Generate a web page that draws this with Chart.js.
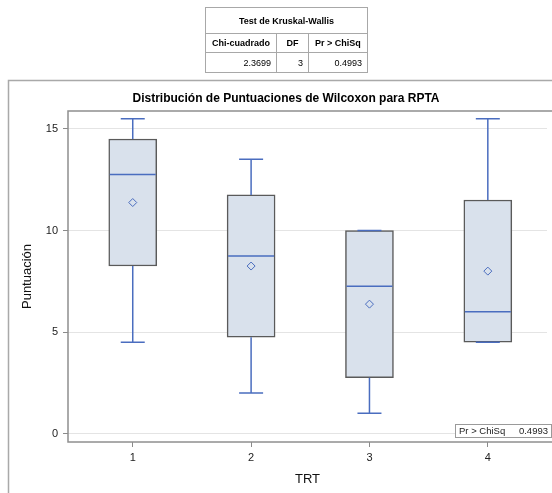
<!DOCTYPE html>
<html><head><meta charset="utf-8">
<script src="https://cdn.jsdelivr.net/npm/chart.js@4"></script>
<style>
html,body{margin:0;padding:0;background:#fff;}
#wrap{position:relative;width:552px;height:493px;overflow:hidden;background:#fff;}
canvas{position:absolute;left:0;top:0;}
#kw{position:absolute;left:205px;top:7px;border-collapse:collapse;font-family:"Liberation Sans",Arial,sans-serif;font-size:9px;color:#000;table-layout:fixed;}
#kw td{border:1px solid #a8a8a8;padding:0 5px;box-sizing:border-box;}
#kw .t{text-align:center;font-weight:bold;height:26px;}
#kw .h td{font-weight:bold;height:19px;text-align:center;}
#kw .v td{height:20px;text-align:right;}
</style></head>
<body><div id="wrap"><canvas id="c" width="552" height="493"></canvas>
<table id="kw"></table>
</div>
<script>
// ---- data ----
const categories = ['1', '2', '3', '4'];
const whiskerLow  = [4.5, 2.0, 1.0, 4.5];
const q1          = [8.25, 4.75, 2.75, 4.5];
const medians     = [12.75, 8.75, 7.25, 6.0];
const q3          = [14.5, 11.75, 10.0, 11.5];
const whiskerHigh = [15.5, 13.5, 10.0, 15.5];
const means       = [11.375, 8.25, 6.375, 8.0];
const yTicks      = [0, 5, 10, 15];
const chartTitle   = 'Distribución de Puntuaciones de Wilcoxon para RPTA';
const tableTitle   = 'Test de Kruskal-Wallis';
const tableHeaders = ['Chi-cuadrado', 'DF', 'Pr > ChiSq'];
const tableValues  = ['2.3699', '3', '0.4993'];
const insetLabel = 'Pr > ChiSq';
const insetValue = '0.4993';

// ---- table ----
const colW = [71, 32, 59];
const tbl = document.getElementById('kw');
let html = '<colgroup>' + colW.map(w => '<col style="width:' + w + 'px">').join('') + '</colgroup>';
html += '<tr><td class="t" colspan="3">' + tableTitle + '</td></tr>';
html += '<tr class="h">' + tableHeaders.map(h => '<td>' + h.replace('>', '&gt;') + '</td>').join('') + '</tr>';
html += '<tr class="v">' + tableValues.map(v => '<td>' + v + '</td>').join('') + '</tr>';
tbl.innerHTML = html;

const FONT = '"Liberation Sans", Arial, sans-serif';
const BLUE = '#4a6dbf';

const boxPlugin = {
  id: 'boxExtras',
  beforeDraw(chart) {
    const ctx = chart.ctx;
    ctx.save();
    ctx.fillStyle = '#fff';
    ctx.fillRect(0, 0, chart.width, chart.height);
    ctx.strokeStyle = '#a9a9a9';
    ctx.lineWidth = 1.5;
    ctx.beginPath();
    ctx.moveTo(8.5, chart.height);
    ctx.lineTo(8.5, 80.5);
    ctx.lineTo(chart.width, 80.5);
    ctx.stroke();
    // title
    ctx.fillStyle = '#000';
    ctx.font = 'bold 12px ' + FONT;
    ctx.textAlign = 'center';
    ctx.textBaseline = 'middle';
    ctx.fillText(chartTitle, 286, 99);
    ctx.restore();
  },
  afterDatasetDraw(chart, args) {
    if (args.index !== 0) return;
    const ctx = chart.ctx;
    const xs = chart.scales.x, ys = chart.scales.y;
    const meta = chart.getDatasetMeta(0);
    ctx.save();
    ctx.strokeStyle = BLUE;
    ctx.lineWidth = 1.5;
    categories.forEach((c, i) => {
      const x = xs.getPixelForValue(i + 1);
      const bw = meta.data[i].width;
      const cap = bw / 2;
      const yLo = ys.getPixelForValue(whiskerLow[i]);
      const yQ1 = ys.getPixelForValue(q1[i]);
      const yQ3 = ys.getPixelForValue(q3[i]);
      const yHi = ys.getPixelForValue(whiskerHigh[i]);
      const yMed = ys.getPixelForValue(medians[i]);
      ctx.beginPath();
      ctx.moveTo(x, yQ3); ctx.lineTo(x, yHi);
      ctx.moveTo(x, yQ1); ctx.lineTo(x, yLo);
      ctx.moveTo(x - cap / 2, yHi); ctx.lineTo(x + cap / 2, yHi);
      ctx.moveTo(x - cap / 2, yLo); ctx.lineTo(x + cap / 2, yLo);
      ctx.moveTo(x - bw / 2 + 1, yMed); ctx.lineTo(x + bw / 2 - 1, yMed);
      ctx.stroke();
    });
    ctx.restore();
  },
  afterDraw(chart) {
    const ctx = chart.ctx;
    const a = chart.chartArea;
    ctx.save();
    ctx.strokeStyle = '#8f8f8f';
    ctx.lineWidth = 1.5;
    ctx.strokeRect(a.left, a.top, a.right - a.left + 6, a.bottom - a.top);
    // inset
    const bx = 455, by = a.bottom - 18, bw = 96, bh = 13;
    ctx.fillStyle = '#fff';
    ctx.fillRect(bx, by, bw, bh);
    ctx.strokeStyle = '#9a9a9a';
    ctx.lineWidth = 1;
    ctx.strokeRect(bx + 0.5, by + 0.5, bw, bh);
    ctx.fillStyle = '#222';
    ctx.font = '9.5px ' + FONT;
    ctx.textBaseline = 'middle';
    ctx.textAlign = 'left';
    ctx.fillText(insetLabel, bx + 4, by + bh / 2 + 1);
    ctx.textAlign = 'right';
    ctx.fillText(insetValue, bx + bw - 3, by + bh / 2 + 1);
    ctx.restore();
  }
};

new Chart(document.getElementById('c'), {
  data: {
    datasets: [
      {
        type: 'bar',
        order: 2,
        data: categories.map((c, i) => ({ x: i + 1, y: [q1[i], q3[i]] })),
        backgroundColor: '#d9e1ec',
        borderColor: '#5a5a5a',
        borderWidth: 1.5,
        borderSkipped: false,
        barThickness: 48
      },
      {
        type: 'scatter',
        order: 1,
        data: categories.map((c, i) => ({ x: i + 1, y: means[i] })),
        pointStyle: 'rectRot',
        pointRadius: 4,
        pointBorderWidth: 1,
        pointBorderColor: BLUE,
        pointBackgroundColor: 'rgba(0,0,0,0)',
        borderColor: BLUE,
        backgroundColor: 'rgba(0,0,0,0)'
      }
    ]
  },
  options: {
    responsive: false,
    animation: false,
    devicePixelRatio: 1,
    layout: { padding: { top: 111, left: 8, right: 0, bottom: 0 } },
    plugins: {
      legend: { display: false },
      tooltip: { enabled: false },
      title: { display: false }
    },
    scales: {
      x: {
        type: 'linear',
        offset: false,
        min: 0.453,
        max: 4.50,
        afterFit(s) { s.height = 51; },
        afterBuildTicks(s) { s.ticks = categories.map((c, i) => ({ value: i + 1 })); },
        ticks: {
          callback: (v) => categories[v - 1],
          color: '#222',
          font: { family: FONT, size: 11 },
          padding: 4,
          autoSkip: false,
          maxRotation: 0
        },
        grid: { offset: false, drawOnChartArea: false, tickLength: 5, tickColor: '#8a8a8a', color: '#8a8a8a' },
        border: { display: false },
        title: {
          display: true, text: 'TRT', color: '#111',
          font: { family: FONT, size: 13, lineHeight: 1.2 },
          padding: { top: 0, bottom: 6 }
        }
      },
      y: {
        type: 'linear',
        min: -0.41,
        max: 15.88,
        afterFit(s) { s.width = 60; },
        afterBuildTicks(s) { s.ticks = yTicks.map(v => ({ value: v })); },
        ticks: { color: '#222', font: { family: FONT, size: 11 }, padding: 5 },
        grid: { color: '#e4e4e4', lineWidth: 1, tickLength: 5, tickColor: '#8a8a8a' },
        border: { display: false },
        title: {
          display: true, text: 'Puntuación', color: '#111',
          font: { family: FONT, size: 13, lineHeight: 1.2 },
          padding: { top: 12, bottom: 0 }
        }
      }
    }
  },
  plugins: [boxPlugin]
});
</script>
</body></html>
